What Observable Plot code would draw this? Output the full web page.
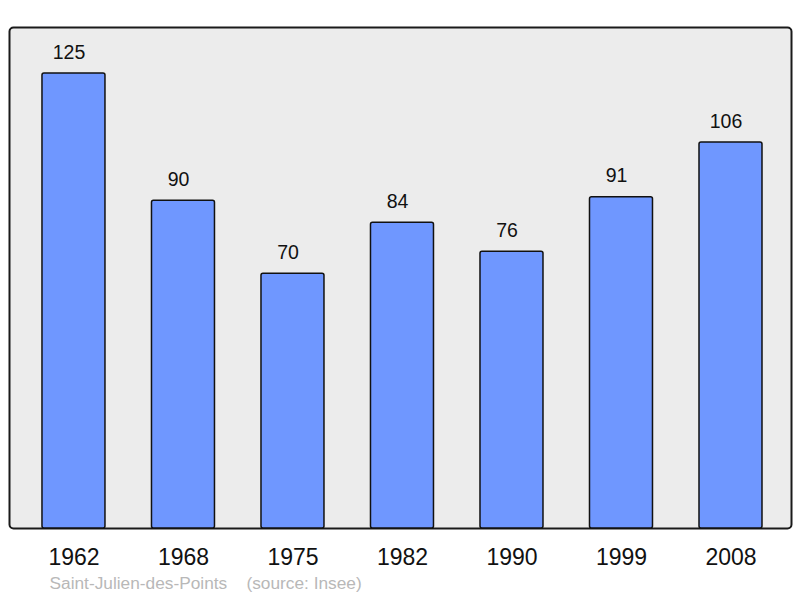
<!DOCTYPE html>
<html><head><meta charset="utf-8">
<script src="https://cdn.jsdelivr.net/npm/d3@7"></script>
<script src="https://cdn.jsdelivr.net/npm/@observablehq/plot@0.6"></script>
<style>body{margin:0;background:#fff;font-family:"Liberation Sans",Arial,sans-serif}</style>
</head><body><div id="chart"></div>
<script>
const years = ["1962","1968","1975","1982","1990","1999","2008"];
const population = [125, 90, 70, 84, 76, 91, 106];
const captionText = "Saint-Julien-des-Points    (source: Insee)";

const data = years.map((y, i) => ({year: y, value: population[i]}));

const chart = Plot.plot({
  width: 800,
  height: 598,
  marginLeft: 9,
  marginRight: 9,
  marginTop: 27,
  marginBottom: 70,
  style: {fontFamily: "'Liberation Sans', Arial, sans-serif", background: "#fff"},
  x: {domain: years, paddingInner: 0.4247, paddingOuter: 0.283, align: 0.532, round: false, label: null},
  y: {domain: [0, 137.6], axis: null},
  marks: [
    Plot.frame({fill: "#ececec", stroke: "#1a1a1a", strokeWidth: 2, rx: 4}),
    Plot.barY(data, {x: "year", y: "value", fill: "#6f97ff", stroke: "#111", strokeWidth: 1.5, rx: 2}),
    Plot.text(data, {x: "year", y: "value", text: d => String(d.value), dy: -21, dx: -5, fontSize: 19.5, fill: "#111"}),
    Plot.axisX({tickSize: 0, tickPadding: 20, fontSize: 23, fill: "#111", label: null}),
    Plot.text([captionText], {frameAnchor: "bottom-left", text: d => d, dx: 40, dy: 60, textAnchor: "start", fontSize: 17.3, fill: "#b8b8b8"})
  ]
});
document.getElementById("chart").append(chart);
</script></body></html>
